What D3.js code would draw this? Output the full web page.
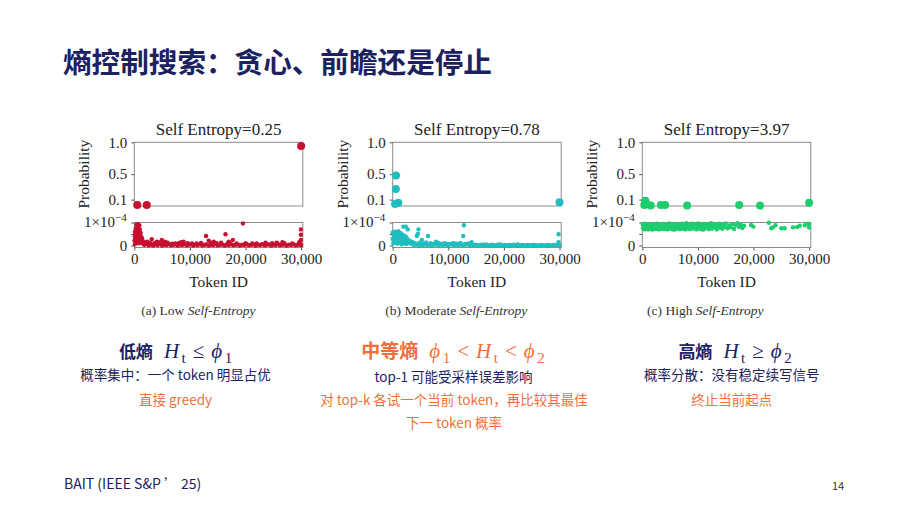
<!DOCTYPE html>
<html><head><meta charset="utf-8">
<script src="https://cdn.jsdelivr.net/npm/d3@7"></script>
<style>body{margin:0;background:#fff;overflow:hidden}</style>
</head><body>
<svg id="c" width="908" height="511"></svg>
<script>
// ---------------- DATA ----------------
const slideTitle = "熵控制搜索：贪心、前瞻还是停止";
const panelTitles = ["Self Entropy=0.25", "Self Entropy=0.78", "Self Entropy=3.97"];
const captionLead = ["(a) Low ", "(b) Moderate ", "(c) High "];
const captionItalic = "Self-Entropy";
const xTicks = [0, 10000, 20000, 30000];
const upperTicks = [0.1, 0.5, 1.0];
const lowerTicks = [0, 0.5, 1];   // in units of 1e-4
const xLabel = "Token ID";
const yLabel = "Probability";

// upper panels: [token id, probability]
const upperA = [[30000, 0.94], [540, 0.015], [2240, 0.015]];
const upperB = [[600, 0.48], [560, 0.265], [1010, 0.05], [420, 0.03], [30000, 0.058]];
const upperC = [[360, 0.016], [545, 0.083], [800, 0.026], [1520, 0.006], [3340, 0.016], [4120, 0.016],
                [8060, 0.006], [17420, 0.016], [21180, 0.006], [30000, 0.052]];

// lower panels: [token id, probability x 1e-4]
const lowerAcolumn = [[50,0.22],[80,0.42],[100,0.05],[120,0.6],[150,0.3],[200,0.55],[250,0.15],[300,0.75],
  [350,0.4],[400,0.9],[450,0.2],[500,0.65],[550,0.85],[600,0.35],[650,0.93],[700,0.5],[750,0.8],[800,0.1],
  [850,0.6],[900,0.88],[950,0.28],[1000,0.7],[1050,0.45],[1100,0.18],[1150,0.55],[1200,0.38],[1250,0.25],
  [1300,0.12],[1400,0.32],[1500,0.2],[1600,0.08],[1700,0.15],[1800,0.05],[2000,0.1],[2300,0.16]];
const lowerAscatter = [[3140,0.27],[4040,0.17],[4950,0.24],[5550,0.17],[7360,0.09],[8870,0.17],[10370,0.09],
  [12900,0.41],[13380,0.21],[14290,0.17],[16400,0.49],[17000,0.17],[17720,0.24],[19530,0.96],[21220,0.09],
  [23630,0.09],[25740,0.09],[26640,0.14],[29650,0.14],[29960,0.70],[29960,0.47],[29960,0.24],
  [2800,0.12],[3600,0.1],[4400,0.14],[5200,0.1],[6000,0.12],[6800,0.08],[8000,0.1],[8400,0.14],[9600,0.1],
  [11200,0.09],[12000,0.11],[13800,0.12],[14800,0.1],[15600,0.12],[16800,0.1],[18400,0.09],[20000,0.1],
  [22000,0.09],[23600,0.12],[24800,0.1],[25600,0.12],[27000,0.1],[28400,0.09],[29700,0.1]];
const lowerAbase = [[1800,0.03],[2200,0.06],[2600,0.01],[3000,0.04],[3400,0.0],[3800,0.05],[4200,0.02],[4600,0.07],
  [5000,0.0],[5400,0.04],[5800,0.02],[6200,0.06],[6600,0.01],[7000,0.03],[7400,0.05],[7800,0.0],[8200,0.04],
  [8600,0.02],[9000,0.06],[9400,0.01],[9800,0.03],[10200,0.05],[10600,0.0],[11000,0.04],[11400,0.02],[11800,0.06],
  [12200,0.01],[12600,0.03],[13000,0.05],[13400,0.0],[13800,0.04],[14200,0.02],[14600,0.06],[15000,0.01],
  [15400,0.03],[15800,0.05],[16200,0.0],[16600,0.04],[17000,0.02],[17400,0.06],[17800,0.01],[18200,0.03],
  [18600,0.05],[19000,0.0],[19400,0.04],[19800,0.02],[20200,0.06],[20600,0.01],[21000,0.03],[21400,0.05],
  [21800,0.0],[22200,0.04],[22600,0.02],[23000,0.06],[23400,0.01],[23800,0.03],[24200,0.05],[24600,0.0],
  [25000,0.04],[25400,0.02],[25800,0.06],[26200,0.01],[26600,0.03],[27000,0.05],[27400,0.0],[27800,0.04],
  [28200,0.02],[28600,0.06],[29000,0.01],[29400,0.03],[29800,0.05],[30000,0.02]];

const lowerBcluster = [[0,0.57],[0,0.28],[100,0.1],[200,0.45],[300,0.25],[400,0.6],[500,0.15],[600,0.38],
  [700,0.52],[800,0.08],[900,0.3],[1000,0.62],[1100,0.2],[1200,0.42],[1300,0.12],[1400,0.55],[1500,0.33],
  [1600,0.05],[1700,0.25],[1800,0.47],[1900,0.15],[2000,0.36],[2100,0.1],[2200,0.28],[2300,0.4],[2400,0.18],
  [2500,0.07],[2600,0.3],[2750,0.22],[2900,0.12],[3100,0.2],[3300,0.08],[3500,0.15],[3700,0.05]];
const lowerBscatter = [[1930,0.82],[2350,0.82],[2710,0.70],[4640,0.70],[4520,0.50],[4340,0.41],[5250,0.24],
  [6340,0.41],[7790,0.17],[10690,0.09],[12800,0.88],[12680,0.41],[14190,0.14],[16730,0.05],[19140,0.05],
  [22460,0.05],[25180,0.02],[29830,0.49],[29830,0.14],
  [4000,0.1],[4800,0.12],[5600,0.08],[6000,0.13],[6800,0.1],[7400,0.07],[8200,0.11],[8800,0.08],[9400,0.1],
  [10000,0.07],[11000,0.1],[11600,0.08],[12200,0.11],[13000,0.07],[13600,0.09]];
const lowerBbase = [[3800,0.02],[4200,0.05],[4600,0.0],[5000,0.04],[5400,0.01],[5800,0.05],[6200,0.02],
  [6600,0.04],[7000,0.0],[7400,0.03],[7800,0.05],[8200,0.01],[8600,0.04],[9000,0.02],[9400,0.05],[9800,0.0],
  [10200,0.03],[10600,0.05],[11000,0.01],[11400,0.04],[11800,0.02],[12200,0.05],[12600,0.0],[13000,0.03],
  [13400,0.05],[13800,0.01],[14200,0.04],[14600,0.02],[15000,0.03],[15400,0.0],[15800,0.02],[16200,0.03],
  [16600,0.01],[17000,0.02],[17400,0.0],[17800,0.03],[18200,0.01],[18600,0.02],[19000,0.0],[19400,0.03],
  [19800,0.01],[20200,0.02],[20600,0.0],[21000,0.02],[21400,0.01],[21800,0.03],[22200,0.0],[22600,0.02],
  [23000,0.01],[23400,0.02],[23800,0.0],[24200,0.02],[24600,0.01],[25000,0.0],[25400,0.02],[25800,0.01],
  [26200,0.0],[26600,0.02],[27000,0.01],[27400,0.0],[27800,0.02],[28200,0.01],[28600,0.0],[29000,0.02],
  [29400,0.01],[29800,0.03],[30000,0.0]];

const lowerCband = [[100,0.92],[150,0.75],[250,0.85],[350,0.70],[450,0.95],[550,0.80],[650,0.72],[750,0.90],
  [850,0.78],[950,0.86],[1100,0.70],[1200,0.93],[1350,0.82],[1500,0.74],[1650,0.88],[1800,0.69],[1950,0.91],
  [2100,0.79],[2250,0.84],[2400,0.72],[2550,0.95],[2700,0.77],[2850,0.87],[3000,0.70],[3150,0.90],[3300,0.81],
  [3450,0.73],[3600,0.94],[3750,0.85],[3900,0.71],[4050,0.89],[4200,0.78],[4350,0.92],[4500,0.70],[4650,0.83],
  [4800,0.96],[4950,0.75],[5100,0.87],[5250,0.72],[5400,0.91],[5550,0.80],[5700,0.69],[5850,0.94],[6000,0.84],
  [6150,0.74],[6300,0.89],[6450,0.77],[6600,0.93],[6750,0.71],[6900,0.86],[7050,0.79],[7200,0.95],[7350,0.73],
  [7500,0.88],[7650,0.82],[7800,0.70],[7950,0.97],[8100,0.85],[8250,0.76],[8400,0.92],[8550,0.71],[8700,0.87],
  [8850,0.80],[9000,0.95],[9150,0.74],[9300,0.89],[9450,0.78],[9600,0.93],[9750,0.70],[9900,0.84],[10050,0.96],
  [10200,0.76],[10350,0.88],[10500,0.72],[10650,0.91],[10800,0.81],[10950,0.69],[11100,0.94],[11250,0.83],
  [11400,0.75],[11550,0.90],[11700,0.78],[11850,0.92],[12000,0.71],[12200,0.86],[12400,0.97],[12600,0.74],
  [12800,0.88],[13000,0.80],[13200,0.93],[13400,0.70],[13600,0.84],[13800,0.95],[14000,0.77],[14200,0.89],
  [14400,0.73],[14600,0.91],[14800,0.82],[15000,0.96],[15300,0.75],[15600,0.87],[15900,0.79],[16200,0.93],
  [16500,0.72],[16800,0.88],[17100,0.97],[17400,0.80],[17700,0.91],[18000,0.76],[18300,0.86]];
const lowerCsparse = [[19550,0.89],[19970,0.82],[22750,0.99],[23180,0.75],[23480,0.79],[23960,0.88],
  [24990,0.75],[25590,0.75],[27110,0.79],[27840,0.80],[28310,0.86],[29230,0.88],[29840,0.95],[30000,0.78],[30000,0.93]];

// annotation texts
const headA = "低熵", headB = "中等熵", headC = "高熵";
const mathA = [["H","i"],["t","sub"],["≤","op"],["ϕ","i"],["1","sub"]];
const mathB = [["ϕ","i"],["1","sub"],["<","op"],["H","i"],["t","sub"],["<","op"],["ϕ","i"],["2","sub"]];
const mathC = [["H","i"],["t","sub"],["≥","op"],["ϕ","i"],["2","sub"]];
const noteA = ["概率集中：一个 token 明显占优"], actionA = ["直接 greedy"];
const noteB = ["top-1 可能受采样误差影响"], actionB = ["对 top-k 各试一个当前 token，再比较其最佳", "下一 token 概率"];
const noteC = ["概率分散：没有稳定续写信号"], actionC = ["终止当前起点"];
const footer = "BAIT (IEEE S&P ’ 25)";
const pageNum = "14";

// ---------------- LAYOUT / STYLE ----------------
const NAVY = "#1c2260", ORANGE = "#f26f3b";
const CJK = "'Noto Sans CJK SC','Noto Sans',sans-serif";
const SERIF = "'Liberation Serif','Times New Roman',serif";
const panelLefts = [134.3, 392.7, 642.3];
const panelW = 168.5;
const upTop = 142.3, upBot = 206, loTop = 222.5, loZero = 245.5, loBot = 247.5;
const colors = ["#c8102e", "#20bebe", "#1ecd6e"];
const captionX = [198.3, 456.3, 705.3];

const svg = d3.select("#c");
svg.append("rect").attr("width", 908).attr("height", 511).attr("fill", "#fff");

svg.append("text").attr("x", 63).attr("y", 72.5)
  .attr("font-family", CJK).attr("font-weight", 700).attr("font-size", 28.6)
  .attr("fill", NAVY).text(slideTitle);

const uppers = [upperA, upperB, upperC];
const lowers = [
  [...lowerAbase, ...lowerAcolumn, ...lowerAscatter],
  [...lowerBbase, ...lowerBcluster, ...lowerBscatter],
  [...lowerCband, ...lowerCsparse]
];

function styleAxis(g) {
  g.select(".domain").remove();
  g.selectAll(".tick line").attr("stroke", "#555");
  g.selectAll(".tick text").attr("font-family", SERIF).attr("font-size", 15).attr("fill", "#222");
}

panelLefts.forEach((L, i) => {
  const R = L + panelW;
  const x = d3.scaleLinear().domain([0, 30300]).range([L, R]);
  const yU = d3.scaleLinear().domain([0, 1]).range([upBot, upTop]);
  const yL = d3.scaleLinear().domain([0, 1]).range([loZero, loTop]);
  const g = svg.append("g");

  // boxes
  g.append("rect").attr("x", L).attr("y", upTop).attr("width", panelW).attr("height", upBot - upTop)
    .attr("fill", "none").attr("stroke", "#8c8c8c").attr("stroke-width", 1);
  g.append("rect").attr("x", L).attr("y", loTop).attr("width", panelW).attr("height", loBot - loTop)
    .attr("fill", "none").attr("stroke", "#8c8c8c").attr("stroke-width", 1);

  // axes
  g.append("g").attr("transform", `translate(${L},0)`)
    .call(d3.axisLeft(yU).tickValues(upperTicks).tickFormat(d3.format(".1f")).tickSize(3).tickPadding(4))
    .call(styleAxis);
  g.append("g").attr("transform", `translate(${L},0)`)
    .call(d3.axisLeft(yL).tickValues(lowerTicks).tickFormat(d => d === 0 ? "0" : "").tickSize(3).tickPadding(4))
    .call(styleAxis);
  const sup = g.append("text").attr("x", L - 7.5).attr("y", yL(1) + 4.5).attr("text-anchor", "end")
    .attr("font-family", SERIF).attr("font-size", 15).attr("fill", "#222");
  sup.append("tspan").text("1×10");
  sup.append("tspan").attr("font-size", 11).attr("dy", -6).text("−4");

  g.append("g").attr("transform", `translate(0,${loBot})`)
    .call(d3.axisBottom(x).tickValues(xTicks).tickFormat(d3.format(",")).tickSize(3).tickPadding(3))
    .call(styleAxis);

  // labels
  g.append("text").attr("x", (L + R) / 2).attr("y", 135).attr("text-anchor", "middle")
    .attr("font-family", SERIF).attr("font-size", 17).attr("fill", "#222").text(panelTitles[i]);
  g.append("text").attr("x", (L + R) / 2).attr("y", 286.5).attr("text-anchor", "middle")
    .attr("font-family", SERIF).attr("font-size", 15.5).attr("fill", "#222").text(xLabel);
  g.append("text").attr("transform", `translate(${L - 45},${(upTop + upBot) / 2}) rotate(-90)`)
    .attr("text-anchor", "middle").attr("font-family", SERIF).attr("font-size", 15.5)
    .attr("fill", "#222").text(yLabel);

  const cap = g.append("text").attr("x", captionX[i]).attr("y", 315).attr("text-anchor", "middle")
    .attr("font-family", SERIF).attr("font-size", 13.5).attr("fill", "#333");
  cap.append("tspan").text(captionLead[i]);
  cap.append("tspan").attr("font-style", "italic").text(captionItalic);

  // marks
  g.append("g").selectAll("circle").data(lowers[i]).join("circle")
    .attr("cx", d => x(d[0])).attr("cy", d => yL(d[1])).attr("r", 2.2).attr("fill", colors[i]);
  g.append("g").selectAll("circle").data(uppers[i]).join("circle")
    .attr("cx", d => x(d[0])).attr("cy", d => yU(d[1])).attr("r", 4).attr("fill", colors[i]);
});

// ---------------- annotations ----------------
function heading(cx, y, head, headSize, parts, color) {
  const t = svg.append("text").attr("x", cx).attr("y", y).attr("text-anchor", "middle").attr("fill", color);
  t.append("tspan").attr("font-family", CJK).attr("font-weight", 700).attr("font-size", headSize).text(head);
  let off = 0;
  parts.forEach((p, k) => {
    const s = t.append("tspan");
    let dy = 0, dx = 0;
    if (p[1] === "sub") { dy = 5 - off; off = 5; dx = 2.5; s.attr("font-size", 15).attr("font-family", SERIF); }
    else { dy = -off; off = 0; s.attr("font-size", 21).attr("font-family", SERIF); }
    if (p[1] === "i") s.attr("font-style", "italic");
    if (k === 0) dx = 11;
    if (p[1] === "op") dx = 7;
    else if (k > 0 && parts[k - 1][1] === "op") dx = 7;
    s.attr("dy", dy).attr("dx", dx);
    s.text(p[0]);
  });
}
heading(175.5, 358, headA, 17, mathA, NAVY);
heading(453, 358, headB, 19, mathB, ORANGE);
heading(735, 358, headC, 17, mathC, NAVY);

function lines(cx, y0, arr, color, step) {
  arr.forEach((s, k) => {
    svg.append("text").attr("x", cx).attr("y", y0 + k * step).attr("text-anchor", "middle")
      .attr("font-family", CJK).attr("font-size", 13.5).attr("fill", color).text(s);
  });
}
lines(175.5, 380, noteA, NAVY, 22.7);
lines(175.5, 405, actionA, ORANGE, 22.7);
lines(453.5, 382, noteB, NAVY, 22.7);
lines(454, 405, actionB, ORANGE, 22.7);
lines(731.7, 380, noteC, NAVY, 22.7);
lines(731.7, 405, actionC, ORANGE, 22.7);

svg.append("text").attr("x", 64).attr("y", 489).attr("font-family", CJK).attr("font-size", 14)
  .attr("fill", NAVY).text(footer);
svg.append("text").attr("x", 838).attr("y", 490).attr("text-anchor", "middle").attr("font-family", CJK)
  .attr("font-size", 11).attr("fill", "#333").text(pageNum);
</script>
</body></html>
